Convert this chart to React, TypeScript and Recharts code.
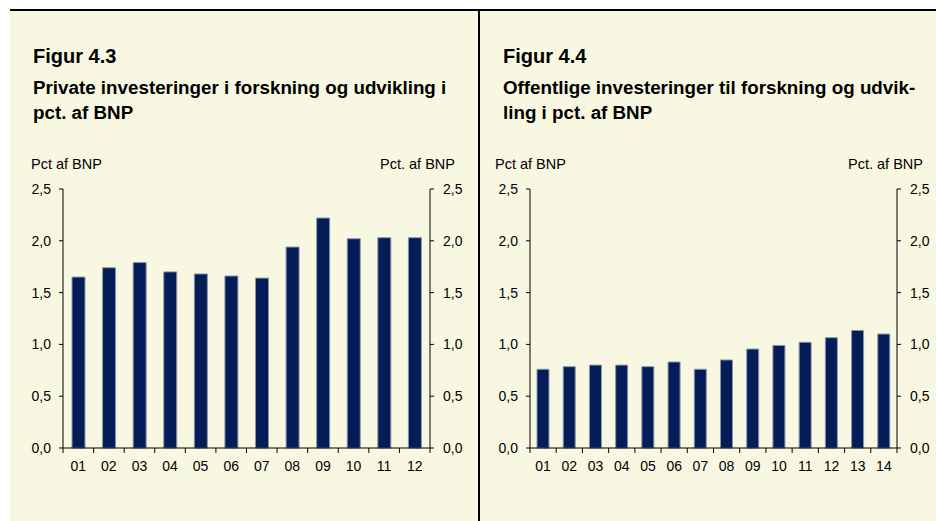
import React from 'react';
import { ComposedChart, Bar, Line, XAxis, YAxis } from 'recharts';

// Figur 4.3 - private R&D investments, pct. of GDP
const privateYears = ['01', '02', '03', '04', '05', '06', '07', '08', '09', '10', '11', '12'];
const privateValues = [1.65, 1.74, 1.79, 1.7, 1.68, 1.66, 1.64, 1.94, 2.22, 2.02, 2.03, 2.03];

// Figur 4.4 - public R&D investments, pct. of GDP
const publicYears = ['01', '02', '03', '04', '05', '06', '07', '08', '09', '10', '11', '12', '13', '14'];
const publicValues = [0.76, 0.785, 0.8, 0.8, 0.785, 0.83, 0.76, 0.85, 0.955, 0.99, 1.02, 1.065, 1.135, 1.1];

const yTicks = [0, 0.5, 1, 1.5, 2, 2.5];

const FONT = "'Liberation Sans', Arial, sans-serif";
const BG = '#F8F8E2';
const BAR = '#041C58';

const fmt = (v: number) => v.toFixed(1).replace('.', ',');

interface PanelProps {
  left: number;
  fig: string;
  title: string[];
  years: string[];
  values: number[];
  barSize: number;
  leftW: number;
  rightW: number;
  width: number;
  figX: number;
  unitX: number;
  unitRight: number;
}

const Panel: React.FC<PanelProps> = (p) => {
  const data = p.years.map((y, i) => ({ year: y, value: p.values[i] }));
  const tickStyle = { fontSize: 14, fill: '#000', fontFamily: FONT };
  // half a category band, used to put the x tick marks on the band edges
  const half = (p.width - p.leftW - p.rightW) / p.years.length / 2;

  const XTick = (props: any) => {
    const { x, y, payload, index } = props;
    const axisY = y - 13;
    return (
      <g>
        <line x1={x - half} x2={x - half} y1={axisY} y2={axisY + 5} stroke="#000" />
        {index === p.years.length - 1 && (
          <line x1={x + half} x2={x + half} y1={axisY} y2={axisY + 5} stroke="#000" />
        )}
        <text x={x} y={y} dy="0.71em" textAnchor="middle" fontSize={14} fill="#000" fontFamily={FONT}>
          {payload.value}
        </text>
      </g>
    );
  };

  return (
    <div style={{ position: 'absolute', left: p.left, top: 0, width: p.width, height: 521 }}>
      <div style={{ position: 'absolute', left: p.figX, top: 46, fontWeight: 'bold', fontSize: 20, lineHeight: '20px', whiteSpace: 'nowrap' }}>
        {p.fig}
      </div>
      {p.title.map((line, i) => (
        <div
          key={i}
          style={{ position: 'absolute', left: p.figX, top: 78.5 + i * 25, fontWeight: 'bold', fontSize: 18.8, lineHeight: '18.8px', whiteSpace: 'nowrap' }}
        >
          {line}
        </div>
      ))}
      <div style={{ position: 'absolute', left: p.unitX, top: 157, fontSize: 14.5, lineHeight: '14.5px', whiteSpace: 'nowrap' }}>
        Pct af BNP
      </div>
      <div style={{ position: 'absolute', right: p.width - p.unitRight, top: 157, fontSize: 14.5, lineHeight: '14.5px', whiteSpace: 'nowrap' }}>
        Pct. af BNP
      </div>
      <div style={{ position: 'absolute', left: 0, top: 170 }}>
        <ComposedChart width={p.width} height={320} data={data} margin={{ top: 19, right: 0, bottom: 20, left: 0 }}>
          <XAxis
            xAxisId="cat"
            dataKey="year"
            stroke="#000"
            tickLine={false}
            tickSize={0}
            tickMargin={13}
            height={22}
            interval={0}
            tick={<XTick />}
          />
          <YAxis
            yAxisId="left"
            domain={[0, 2.5]}
            ticks={yTicks}
            tickFormatter={fmt}
            width={p.leftW}
            tickSize={4}
            tickMargin={8}
            stroke="#000"
            tick={tickStyle}
          />
          <YAxis
            yAxisId="right"
            orientation="right"
            domain={[0, 2.5]}
            ticks={yTicks}
            tickFormatter={fmt}
            width={p.rightW}
            tickSize={4}
            tickMargin={9}
            stroke="#000"
            tick={tickStyle}
          />
          <Bar
            xAxisId="cat"
            yAxisId="left"
            dataKey="value"
            fill={BAR}
            stroke="#8c95a6"
            strokeWidth={1}
            barSize={p.barSize}
            isAnimationActive={false}
          />
          {/* invisible series so the right axis gets its scale */}
          <Line
            xAxisId="cat"
            yAxisId="right"
            dataKey="value"
            stroke="none"
            dot={false}
            activeDot={false}
            legendType="none"
            isAnimationActive={false}
          />
        </ComposedChart>
      </div>
    </div>
  );
};

export default function App() {
  return (
    <div style={{ position: 'absolute', left: 0, top: 0, width: 936, height: 521, background: '#fff', fontFamily: FONT, color: '#000' }}>
      <div style={{ position: 'absolute', left: 10, top: 10, width: 926, height: 511, background: BG }} />
      <div style={{ position: 'absolute', left: 10, top: 9, width: 926, height: 2, background: '#000' }} />
      <div style={{ position: 'absolute', left: 478, top: 10, width: 2, height: 511, background: '#000' }} />
      <Panel
        left={0}
        fig="Figur 4.3"
        title={['Private investeringer i forskning og udvikling i', 'pct. af BNP']}
        years={privateYears}
        values={privateValues}
        barSize={13}
        leftW={63}
        rightW={50}
        width={480}
        figX={33}
        unitX={31}
        unitRight={455}
      />
      <Panel
        left={480}
        fig="Figur 4.4"
        title={['Offentlige investeringer til forskning og udvik-', 'ling i pct. af BNP']}
        years={publicYears}
        values={publicValues}
        barSize={12}
        leftW={50}
        rightW={39}
        width={456}
        figX={23}
        unitX={15}
        unitRight={443}
      />
    </div>
  );
}
